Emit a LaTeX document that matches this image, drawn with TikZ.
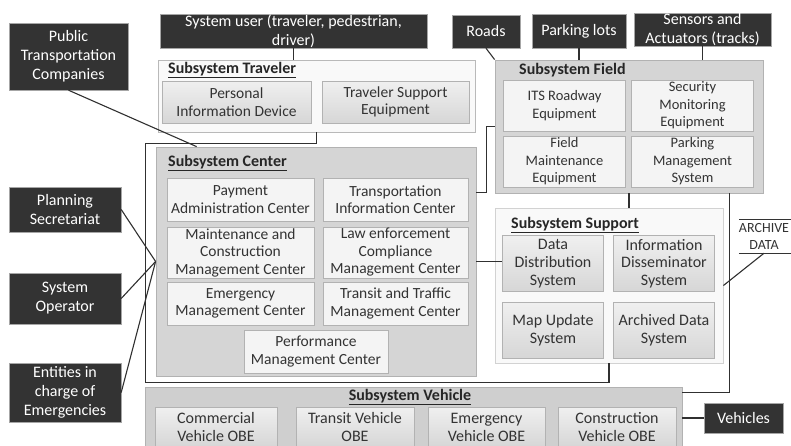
\documentclass[tikz,border=0pt]{standalone}
\usepackage{fontspec}
\setmainfont{Carlito}
\usetikzlibrary{calc}
\definecolor{extgray}{HTML}{333333}
\definecolor{wire}{HTML}{303030}
\begin{document}
\begin{tikzpicture}[x=1pt,y=-1pt,font=\fontsize{15.5}{17.5}\selectfont,
  ext/.style={fill=extgray,draw=gray!70,text=white,align=center,inner sep=0pt,font=\fontsize{16}{19}\selectfont},
  lightsub/.style={fill=gray!5,draw=gray!55,line width=0.8pt},
  darksub/.style={fill=gray!33,draw=gray!60,line width=0.8pt},
  plainunit/.style={fill=gray!9,draw=gray!60,text=black!80,align=center,inner sep=0pt},
  shadeunit/.style={top color=gray!12,bottom color=gray!32,draw=gray!60,text=black!80,align=center,inner sep=0pt},
  title/.style={anchor=west,font=\fontsize{16}{18}\selectfont\bfseries,text=black!85,inner sep=0pt},
  wires/.style={wire,line width=1.1pt}]
\useasboundingbox (0,0) rectangle (791,445);
% outside actors
\node[ext,minimum width=119pt,minimum height=67pt] (ptc) at (68.5,56.5) {Public\\Transportation\\Companies};
\node[ext,minimum width=267pt,minimum height=34pt] (user) at (293.5,31) {System user (traveler, pedestrian,\\driver)};
\node[ext,minimum width=68pt,minimum height=33pt] (roads) at (486,31.5) {Roads};
\node[ext,minimum width=94pt,minimum height=34pt] (parking) at (579,31) {Parking lots};
\node[ext,minimum width=137pt,minimum height=33pt] (sensors) at (702.5,29.5) {Sensors and\\Actuators (tracks)};
\node[ext,minimum width=112pt,minimum height=45pt] (plan) at (65,209.5) {Planning\\Secretariat};
\node[ext,minimum width=112pt,minimum height=51pt] (oper) at (65,298.5) {System\\Operator};
\node[ext,minimum width=112pt,minimum height=59pt] (emerg) at (65,392.5) {Entities in\\charge of\\Emergencies};
\node[ext,minimum width=79pt,minimum height=30pt] (vehicles) at (743.5,418) {Vehicles};
% subsystem traveler
\node[lightsub,minimum width=317pt,minimum height=72pt] (traveler) at (316.5,96) {};
\node[title] at (168,70) {\underline{Subsystem Traveler}};
\node[shadeunit,minimum width=149pt,minimum height=42pt] (pid) at (236.5,102) {Personal\\Information Device};
\node[shadeunit,minimum width=147pt,minimum height=42pt] (tse) at (395.5,102) {Traveler Support\\Equipment};
% subsystem center
\node[darksub,minimum width=320pt,minimum height=229pt] (center) at (316,261.5) {};
\node[title] at (168,163) {\underline{Subsystem Center}};
\node[plainunit,minimum width=147pt,minimum height=43pt] (pay) at (240.5,199.5) {Payment\\Administration Center};
\node[plainunit,minimum width=145pt,minimum height=43pt] (tic) at (395.5,199.5) {Transportation\\Information Center};
\node[plainunit,minimum width=147pt,minimum height=51pt] (mcm) at (240.5,252.5) {Maintenance and\\Construction\\Management Center};
\node[plainunit,minimum width=145pt,minimum height=51pt] (law) at (395.5,252.5) {Law enforcement\\Compliance\\Management Center};
\node[plainunit,minimum width=147pt,minimum height=43pt] (emc) at (240.5,303.5) {Emergency\\Management Center};
\node[plainunit,minimum width=145pt,minimum height=43pt] (ttm) at (395.5,303.5) {Transit and Traffic\\Management Center};
\node[plainunit,minimum width=144pt,minimum height=43pt] (pmc) at (316,351.5) {Performance\\Management Center};
% subsystem field
\node[darksub,minimum width=268pt,minimum height=133pt] (field) at (629,126.5) {};
\node[title] at (519,70) {Subsystem Field};
\begin{scope}[every node/.style={plainunit,minimum width=122pt,minimum height=51pt,font=\fontsize{14.5}{17.5}\selectfont}]
\node (its) at (564.5,105.5) {ITS Roadway\\Equipment};
\node (smq) at (692.5,105.5) {Security\\Monitoring\\Equipment};
\node (fme) at (564.5,161.5) {Field\\Maintenance\\Equipment};
\node (pms) at (692.5,161.5) {Parking\\Management\\System};
\end{scope}
% subsystem support
\node[lightsub,draw=gray!35,minimum width=228pt,minimum height=155pt] (support) at (609,285.5) {};
\node[title] at (511,225) {\underline{Subsystem Support}};
\begin{scope}[every node/.style={shadeunit,minimum width=101pt,minimum height=56pt,font=\fontsize{16}{17.7}\selectfont}]
\node (dds) at (553,263.5) {Data\\Distribution\\System};
\node (ids) at (664,263.5) {Information\\Disseminator\\System};
\node (mus) at (553,330) {Map Update\\System};
\node (ads) at (664,330) {Archived Data\\System};
\end{scope}
\node[align=center,inner sep=0pt,minimum height=34pt,font=\fontsize{14}{17}\selectfont,text=black!80] (archive) at (764,236) {ARCHIVE\\DATA};
\draw[black!80] (archive.north west) -- ++(60,0) (archive.south west) -- ++(60,0);
% subsystem vehicle
\node[darksub,fill=gray!38,minimum width=537pt,minimum height=65pt] (vehicle) at (413.5,419.5) {};
\node[title,anchor=center] at (410,397) {\underline{Subsystem Vehicle}};
\begin{scope}[every node/.style={shadeunit,minimum height=40pt,font=\fontsize{16}{18}\selectfont}]
\node[minimum width=122pt] (cvo) at (216,427) {Commercial\\Vehicle OBE};
\node[minimum width=118pt] (tvo) at (355,427) {Transit Vehicle\\OBE};
\node[minimum width=117pt] (evo) at (486.5,427) {Emergency\\Vehicle OBE};
\node[minimum width=118pt] (kvo) at (617,427) {Construction\\Vehicle OBE};
\end{scope}
% connectors
\draw[wires] (user.south) -- (user.south |- traveler.north);
\draw[wires] (roads.south) -- (field.north west);
\draw[wires] (parking.south) -- (parking.south |- field.north);
\draw[wires] (sensors.south) -- (sensors.south |- field.north);
\draw[wires] (traveler.south) -- ++(0,11) -| ++(-171,239) -| (support.south);
\draw[wires] (field.west) -- ++(-8,0) |- ($(center.north east)+(0,46)$);
\draw[wires] (field.south) -- (field.south |- support.north);
\draw[wires] ($(field.south east)+(-34,0)$) |- ($(vehicle.north east)+(0,6)$);
\draw[wires] (center.east) -- (center.east -| dds.west);
\draw[wires] (vehicles.west) -- (vehicles.west -| vehicle.east);
\draw[wires] (archive.south) -- (support.east);
\draw[wires] (ptc.south) -- ($(center.north west)+(41,0)$);
\draw[wires] (plan.east) -- (center.west);
\draw[wires] (oper.east) -- (center.west);
\draw[wires] (emerg.east) -- (center.west);
\end{tikzpicture}
\end{document}
